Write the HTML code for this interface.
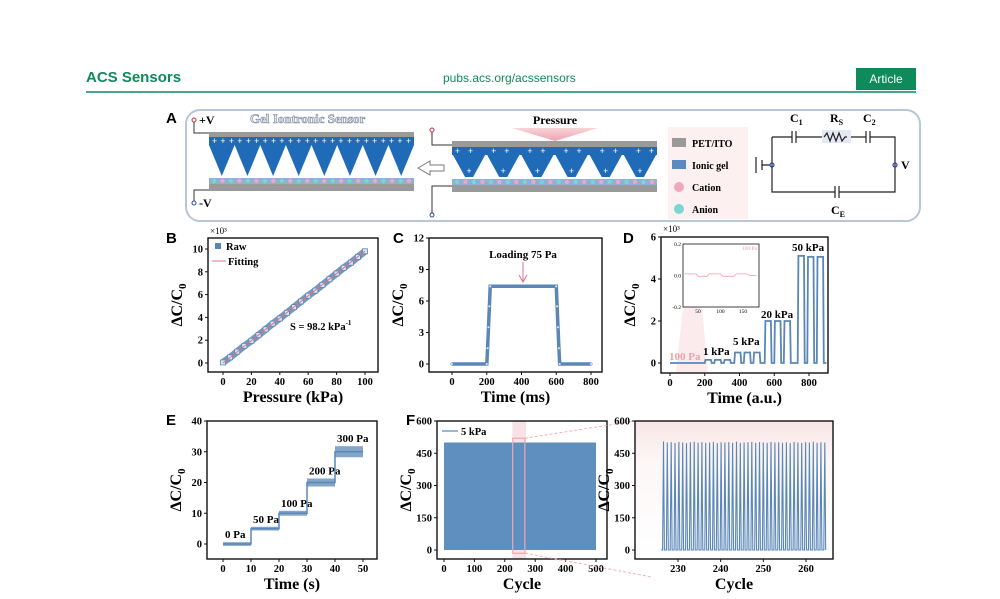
<!DOCTYPE html>
<html><head><meta charset="utf-8"><style>
body{margin:0;background:#fff;width:1000px;height:599px;overflow:hidden}
svg{display:block;font-family:"Liberation Serif",serif}
.t{font-weight:bold;font-size:10.5px}
.at{font-weight:bold;font-size:16px}
.pl{font-family:"Liberation Sans",sans-serif;font-weight:bold;font-size:15px}
</style></head><body>
<svg id="fig" width="1000" height="599" viewBox="0 0 1000 599">
<defs>
<linearGradient id="pg" x1="0" y1="0" x2="0" y2="1"><stop offset="0" stop-color="#f7c9cf"/><stop offset="1" stop-color="#e98d9a"/></linearGradient>
<linearGradient id="zg" x1="0" y1="0" x2="0" y2="1"><stop offset="0" stop-color="#f8e6e6"/><stop offset="0.3" stop-color="#fdf7f7"/><stop offset="1" stop-color="#ffffff"/></linearGradient>
</defs>
<g>
<text x="86" y="82" font-family="Liberation Sans,sans-serif" font-weight="bold" font-size="15" fill="#0f8a5a">ACS Sensors</text>
<text x="443" y="82" font-family="Liberation Sans,sans-serif" font-size="12" fill="#0f8a5a">pubs.acs.org/acssensors</text>
<rect x="856" y="68" width="60" height="22" fill="#0f8a5a"/>
<text x="886" y="83" text-anchor="middle" font-family="Liberation Sans,sans-serif" font-size="12" fill="#fff">Article</text>
<line x1="86" y1="92" x2="916" y2="92" stroke="#0f8a5a" stroke-width="1.5"/>
</g>
<g>
<rect x="186" y="110" width="734" height="111" rx="14" fill="#fff" stroke="#b8c6d8" stroke-width="2"/>
<text x="166" y="123" class="pl">A</text>
<text x="250" y="123" font-weight="bold" font-size="13" fill="#dfe3ea" stroke="#7c8aa0" stroke-width="0.6">Gel Iontronic Sensor</text>
<circle cx="194" cy="120" r="2" fill="none" stroke="#c0304a"/>
<path d="M194 122 V133 H209" fill="none" stroke="#333" stroke-width="1"/>
<text x="199" y="124" font-weight="bold" font-size="12">+V</text>
<circle cx="194" cy="203" r="2" fill="none" stroke="#2a4aa0"/>
<path d="M194 201 V190 H209" fill="none" stroke="#333" stroke-width="1"/>
<text x="199" y="207" font-weight="bold" font-size="12">-V</text>
<g id="sensL"></g>
<g id="sensR"></g>
<path d="M418 168 L430 161 V165 H444 V171 H430 V175 Z" fill="#fff" stroke="#777"/>
<text x="555" y="124" text-anchor="middle" font-weight="bold" font-size="12">Pressure</text>
<path d="M512 128 H598 L555 141 Z" fill="url(#pg)" opacity="0.8"/>
<rect x="668" y="127" width="80" height="92" fill="#fcf0f0"/>
<rect x="672" y="138" width="14" height="9" fill="#9a9a9a"/>
<text x="692" y="147" font-weight="bold" font-size="10">PET/ITO</text>
<rect x="672" y="160" width="14" height="9" fill="#5b8ac0"/>
<text x="692" y="169" font-weight="bold" font-size="10">Ionic gel</text>
<circle cx="679" cy="187" r="5" fill="#f0a8bc"/>
<text x="692" y="191" font-weight="bold" font-size="10">Cation</text>
<circle cx="679" cy="209" r="5" fill="#7ad6d0"/>
<text x="692" y="213" font-weight="bold" font-size="10">Anion</text>
<g stroke="#222" stroke-width="1.2" fill="none">
<path d="M772 137 H792 M796 137 H824 M849 137 H866 M870 137 H895 V192 H839 M835 192 H772 V137"/>
<path d="M792 131 V143 M796 131 V143 M866 131 V143 M870 131 V143 M835 186 V198 M839 186 V198"/>
<rect x="822" y="130" width="29" height="13" fill="#e4e8f4" stroke="none"/>
<path d="M824 137 l3 -4 l3 8 l3 -8 l3 8 l3 -8 l3 8 l3 -4 h2"/>
<path d="M756 157 V173 M762 160 V170 M762 165 H770"/>
<circle cx="772" cy="165" r="2" stroke="#2a4aa0"/>
<circle cx="895" cy="165" r="2" stroke="#2a4aa0"/>
</g>
<text x="790" y="122" font-weight="bold" font-size="12">C<tspan font-size="8" dy="3">1</tspan></text>
<text x="830" y="122" font-weight="bold" font-size="12">R<tspan font-size="8" dy="3">S</tspan></text>
<text x="863" y="122" font-weight="bold" font-size="12">C<tspan font-size="8" dy="3">2</tspan></text>
<text x="901" y="169" font-weight="bold" font-size="12">V</text>
<text x="831" y="214" font-weight="bold" font-size="12">C<tspan font-size="8" dy="3">E</tspan></text>
</g>
<g id="charts"></g>
</svg>
<script>
const bPressure=[0,5,10,15,20,25,30,35,40,45,50,55,60,65,70,75,80,85,90,95,100];
const bRaw=[0.05,0.5,1.0,1.5,1.95,2.45,2.95,3.45,3.9,4.4,4.9,5.4,5.9,6.35,6.85,7.35,7.85,8.35,8.8,9.3,9.8];
const bFit=[0,9.82];
const bTicksX=[0,20,40,60,80,100];
const bTicksY=[0,2,4,6,8,10];
const cTime=[0,200,205,210,215,220,600,605,610,615,620,800];
const cVal=[0,0,1.5,3.5,5.5,7.4,7.4,5.5,3.5,1.5,0,0];
const cTicksX=[0,200,400,600,800];
const cTicksY=[0,3,6,9,12];
const dPulseStart=[200,255,310,370,425,480,545,600,655,735,790,845];
const dPulseEnd=[240,295,350,410,465,520,585,640,695,775,830,885];
const dPulseLevel=[0.15,0.15,0.15,0.5,0.5,0.5,2.0,2.0,2.0,5.1,5.05,5.05];
const dTicksX=[0,200,400,600,800];
const dTicksY=[0,2,4,6];
const insetX=[20,45,50,70,75,100,105,130,135,160,165,180];
const insetY=[0.01,0.01,-0.005,-0.005,0.01,0.01,-0.005,-0.005,0.01,0.01,0,0];
const eStart=[0,10,20,30,40];
const eEnd=[10,20,30,40,50];
const eLevel=[0,5,10,20,30];
const eSpread=[0.6,0.6,0.8,1.3,1.8];
const eLabels=["0 Pa","50 Pa","100 Pa","200 Pa","300 Pa"];
const eTicksX=[0,10,20,30,40,50];
const eTicksY=[0,10,20,30,40];
const fCycleRange=[0,500];
const fPeak=500;
const fTicksX=[0,100,200,300,400,500];
const fTicksY=[0,150,300,450,600];
const zStart=226.6, zPeriod=0.9;
const zPeaks=[505,500,502,498,503,500,497,501,504,499,502,498,500,503,497,501,500,502,499,504,498,500,501,503,499,502,500,498,503,500,502,499,501,497,503,500,498,502,500,504,499,501,500];
const zTicksX=[230,240,250,260];

const NS="http://www.w3.org/2000/svg";
const root=document.getElementById('charts');
function mk(tag,attrs,parent){const e=document.createElementNS(NS,tag);for(const k in attrs)e.setAttribute(k,attrs[k]);(parent||root).appendChild(e);return e;}
function lin(d0,d1,r0,r1){return v=>r0+(v-d0)*(r1-r0)/(d1-d0);}
const BLUE="#5a87b5";
function axes(g,box,sx,sy,tx,ty,ylab,xlab,fmtY){
  const f=mk('rect',{x:box[0],y:box[1],width:box[2]-box[0],height:box[3]-box[1],fill:'none',stroke:'#111','stroke-width':1.4},g);
  
  tx.forEach(v=>{const x=sx(v);mk('line',{x1:x,x2:x,y1:box[3],y2:box[3]+3,stroke:'#111'},g);
    const t=mk('text',{x:x,y:box[3]+13,'text-anchor':'middle',class:'t'},g);t.textContent=v;
    });
  ty.forEach(v=>{const y=sy(v);mk('line',{x1:box[0]-3,x2:box[0],y1:y,y2:y,stroke:'#111'},g);
    const t=mk('text',{x:box[0]-5,y:y+3.5,'text-anchor':'end',class:'t'},g);t.textContent=fmtY?fmtY(v):v;
    });
  const cy=(box[1]+box[3])/2, lx=box[0]-26;
  const yl=mk('text',{x:lx,y:cy,'text-anchor':'middle',class:'at',transform:`rotate(-90 ${lx} ${cy})`},g);
  yl.innerHTML='ΔC/C<tspan font-size="11" dy="4">0</tspan>';
  
  const xl=mk('text',{x:(box[0]+box[2])/2,y:box[3]+30,'text-anchor':'middle',class:'at'},g);xl.textContent=xlab;
  
}
function label(g,x,y,s,name,extra){const t=mk('text',Object.assign({x:x,y:y},extra||{}),g);t.textContent=s;return t;}
function path(pts){return pts.map((p,i)=>(i?'L':'M')+p[0].toFixed(1)+' '+p[1].toFixed(1)).join(' ');}

function sensor(id,x0,x1,topY,n,pressed){
  const g=document.getElementById(id);
  const gy=pressed?141:132, by=pressed?147:137, bh=8, tipY=pressed?177:176, ion=pressed?179:178;
  mk('rect',{x:x0,y:gy,width:x1-x0,height:6,fill:'#9a9a9a'},g);
  mk('rect',{x:x0,y:by,width:x1-x0,height:bh,fill:'#1f6bb8'},g);
  const w=(x1-x0)/n;
  for(let i=0;i<n;i++){const a=x0+i*w;
    if(pressed) mk('path',{d:`M${a+1} ${by+bh} L${a+w-1} ${by+bh} L${a+w/2+4} ${tipY} L${a+w/2-4} ${tipY} Z`,fill:'#1f6bb8'},g);
    else mk('path',{d:`M${a} ${by+bh} L${a+w} ${by+bh} L${a+w/2} ${tipY} Z`,fill:'#1f6bb8'},g);
    if(pressed){const t=mk('text',{x:a+w/2,y:tipY-3,'text-anchor':'middle','font-size':9,fill:'#fff','font-weight':'bold'},g);t.textContent='+';}
  }
  const pt=mk('text',{x:x0+3,y:by+7,'font-size':9,fill:'#fff','font-weight':'bold','textLength':x1-x0-6},g);
  pt.textContent=pressed?'++  ++  ++  ++  ++  ++':'+ + + + + + + + + + + + + + + + + + + + + + + +';
  mk('rect',{x:x0,y:ion,width:x1-x0,height:6,fill:'#8fb0d8'},g);
  mk('rect',{x:x0,y:ion+6,width:x1-x0,height:7,fill:'#9a9a9a'},g);
  for(let i=0;i<24;i++){mk('circle',{cx:x0+5+i*(x1-x0-10)/23,cy:ion+3,r:2.2,fill:i%2?'#f0a8bc':'#7ad6d0'},g);}
}
sensor('sensL',209,414,132,8,false);
sensor('sensR',452,657,141,6,true);
{const g=document.getElementById('sensR');
 mk('circle',{cx:432,cy:130,r:2,fill:'none',stroke:'#c0304a'},g);mk('path',{d:'M432 132 V145 H452',fill:'none',stroke:'#333'},g);
 mk('circle',{cx:432,cy:215,r:2,fill:'none',stroke:'#2a4aa0'},g);mk('path',{d:'M432 213 V186 H452',fill:'none',stroke:'#333'},g);}

{const g=mk('g',{});
 const box=[208,238,378,372];const sx=lin(0,100,223,365),sy=lin(0,10,363,249);
 label(g,166,243,'B','panel-label-b',{class:'pl'});
 label(g,210,234,'×10³','y-scale-factor',{'font-size':9});
 const raw=mk('path',{d:path(bPressure.map((p,i)=>[sx(p),sy(bRaw[i])])),stroke:BLUE,'stroke-width':7,fill:'none',opacity:0.85},g);
 
 bPressure.forEach((p,i)=>{const r=mk('rect',{x:sx(p)-2.5,y:sy(bRaw[i])-2.5,width:5,height:5,fill:'#dbe6f2',stroke:BLUE,'stroke-width':0.8},g);
   });
 const fit=mk('line',{x1:sx(0),y1:sy(bFit[0]),x2:sx(100),y2:sy(bFit[1]),stroke:'#e07080','stroke-width':1},g);
 
 axes(g,box,sx,sy,bTicksX,bTicksY,'','Pressure (kPa)');
 mk('rect',{x:215,y:243,width:6,height:6,fill:BLUE},g);
 label(g,226,250,'Raw','legend-raw',{'font-weight':'bold','font-size':10.5});
 mk('line',{x1:212,x2:226,y1:261,y2:261,stroke:'#e07080'},g);
 label(g,228,265,'Fitting','legend-fitting',{'font-weight':'bold','font-size':10.5});
 label(g,290,330,'S = 98.2 kPa','sensitivity-annotation',{'font-weight':'bold','font-size':10.5}).innerHTML='S = 98.2 kPa<tspan font-size="7" dy="-5">-1</tspan>';
}
{const g=mk('g',{});
 const box=[429,238,602,372];const sx=lin(0,800,452,591),sy=lin(0,12,364,238);
 label(g,393,243,'C','panel-label-c',{class:'pl'});
 const l=mk('path',{d:path(cTime.map((t,i)=>[sx(t),sy(cVal[i])])),stroke:BLUE,'stroke-width':3.5,fill:'none'},g);
 
 cTime.forEach((t,i)=>{const c=mk('circle',{cx:sx(t),cy:sy(cVal[i]),r:1.3,fill:'#dbe6f2',stroke:BLUE,'stroke-width':0.5},g);
   });
 axes(g,box,sx,sy,cTicksX,cTicksY,'','Time (ms)');
 label(g,523,258,'Loading 75 Pa','loading-annotation',{'text-anchor':'middle','font-weight':'bold','font-size':11});
 mk('path',{d:'M523 262 V281 M519 275 L523 282 L527 275',stroke:'#e07080',fill:'none'},g);
}
{const g=mk('g',{});
 const box=[661,237,828,373];const sx=lin(0,800,670,809),sy=lin(0,6,363,237);
 label(g,623,243,'D','panel-label-d',{class:'pl'});
 label(g,663,232,'×10³','y-scale-factor',{'font-size':9});
 mk('path',{d:'M683 307 L702 307 L708 372 L676 372 Z',fill:'#fbe3e6',opacity:0.7},g);
 const pts=[[sx(0),sy(0)]];
 dPulseStart.forEach((s,i)=>{pts.push([sx(s),sy(0)],[sx(s+4),sy(dPulseLevel[i])],[sx(dPulseEnd[i]-4),sy(dPulseLevel[i])],[sx(dPulseEnd[i]),sy(0)]);});
 pts.push([sx(900),sy(0)]);
 const l=mk('path',{d:path(pts),stroke:BLUE,'stroke-width':1.8,fill:'none'},g);
 
 axes(g,box,sx,sy,dTicksX,dTicksY,'','Time (a.u.)');
 label(g,669,360,'100 Pa','label-100pa',{'font-weight':'bold','font-size':11,fill:'#f0a0a8'});
 label(g,703,355,'1 kPa','label-1kpa',{'font-weight':'bold','font-size':11});
 label(g,733,345,'5 kPa','label-5kpa',{'font-weight':'bold','font-size':11});
 label(g,761,318,'20 kPa','label-20kpa',{'font-weight':'bold','font-size':11});
 label(g,792,251,'50 kPa','label-50kpa',{'font-weight':'bold','font-size':11});
 const ig=mk('g',{},g);
 const ix=lin(50,150,698,743),iy=lin(0.2,-0.2,244,307);
 mk('rect',{x:683,y:244,width:76,height:63,fill:'#fff',stroke:'#111','stroke-width':0.8},ig);
 const il=mk('path',{d:path(insetX.map((x,i)=>[ix(x),iy(insetY[i])])),stroke:'#f0a0a8','stroke-width':0.8,fill:'none'},ig);
 
 [0.2,0.0,-0.2].forEach(v=>label(ig,681,iy(v)+2,v.toFixed(1),'inset-y-tick',{'text-anchor':'end','font-size':5.5}));
 [50,100,150].forEach(v=>label(ig,ix(v),313,v,'inset-x-tick',{'text-anchor':'middle','font-size':5.5}));
 label(ig,757,250,'100 Pa','inset-label',{'text-anchor':'end','font-size':5.5,fill:'#f0a0a8'});
}
{const g=mk('g',{});
 const box=[207,421,377,559];const sx=lin(0,50,223,363),sy=lin(0,40,544,421);
 label(g,166,425,'E','panel-label-e',{class:'pl'});
 const pts=[];
 eStart.forEach((s,i)=>{pts.push([sx(s),sy(eLevel[i])],[sx(eEnd[i]),sy(eLevel[i])]);
   const b=mk('rect',{x:sx(s),y:sy(eLevel[i]+eSpread[i]),width:sx(eEnd[i])-sx(s),height:sy(eLevel[i]-eSpread[i])-sy(eLevel[i]+eSpread[i]),fill:BLUE,opacity:0.75},g);
   
   label(g,sx(s)+2,sy(eLevel[i]+eSpread[i])-4,eLabels[i],'step-label',{'font-weight':'bold','font-size':11});});
 const l=mk('path',{d:path(pts),stroke:BLUE,'stroke-width':1.5,fill:'none'},g);
 
 axes(g,box,sx,sy,eTicksX,eTicksY,'','Time (s)');
}
{const g=mk('g',{});
 const box=[437,421,607,559];const sx=lin(0,500,444,596),sy=lin(0,600,550,421);
 label(g,406,425,'F','panel-label-f',{class:'pl'});
 mk('rect',{x:sx(225),y:box[1],width:sx(270)-sx(225),height:box[3]-box[1],fill:'#f7d6da',opacity:0.7},g);
 const r=mk('rect',{x:sx(fCycleRange[0]),y:sy(fPeak),width:sx(fCycleRange[1])-sx(fCycleRange[0]),height:sy(0)-sy(fPeak),fill:'#5f8fbf'},g);
 
 mk('rect',{x:sx(226),y:sy(520),width:sx(266)-sx(226),height:sy(-15)-sy(520),fill:'none',stroke:'#f0a8b0','stroke-width':1.2},g);
 axes(g,box,sx,sy,fTicksX,fTicksY,'','Cycle');
 mk('line',{x1:442,x2:458,y1:431,y2:431,stroke:BLUE,'stroke-width':1.2},g);
 label(g,461,435,'5 kPa','legend-5kpa',{'font-weight':'bold','font-size':10.5});
 mk('path',{d:`M${sx(266)} ${sy(520)} L635 421 M${sx(266)} ${sy(-15)} L652 577`,stroke:'#f0b0b8','stroke-dasharray':'3 2',fill:'none'},g);
 const zg=mk('g',{});
 const zbox=[635,421,833,559];const zx=lin(230,260,678,806),zy=sy;
 mk('rect',{x:635,y:421,width:198,height:138,fill:'url(#zg)'},zg);
 const zp=[[zx(226),zy(0)]];
 zPeaks.forEach((p,i)=>{const c=zStart+i*zPeriod;zp.push([zx(c-0.22),zy(0)],[zx(c),zy(p)],[zx(c+0.22),zy(0)]);});
 const zl=mk('path',{d:path(zp),stroke:BLUE,'stroke-width':1.1,fill:'none'},zg);
 
 axes(zg,zbox,zx,zy,zTicksX,fTicksY,'','Cycle');
}
</script>
</body></html>
